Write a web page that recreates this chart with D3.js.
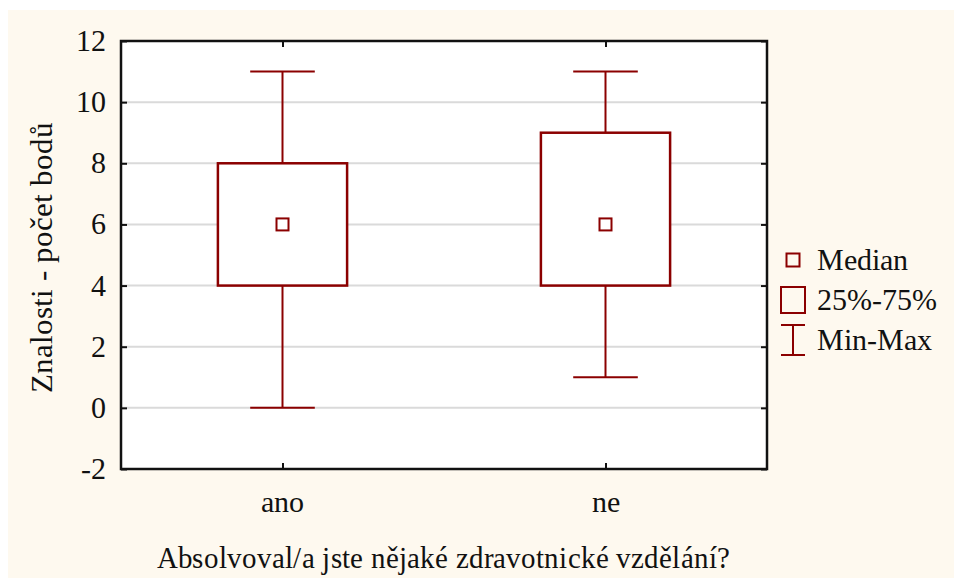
<!DOCTYPE html>
<html>
<head>
<meta charset="utf-8">
<script src="https://cdn.jsdelivr.net/npm/d3@7"></script>
<style>
  @font-face {
    font-family: "ChartSerif";
    src: local("Liberation Serif"), local("LiberationSerif"), local("LiberationSerif-Regular"), local("Times New Roman");
  }
  body { margin: 0; }
  text.lbl { font-family: "ChartSerif", "Liberation Serif", Times, monospace; fill: #111; }
</style>
</head>
<body>
<svg id="chart"></svg>
<script>
const width = 954;
const height = 578;

// box plot values
const groups = ["ano", "ne"];
const minVals = [0, 1];
const q1Vals = [4, 4];
const medianVals = [6, 6];
const q3Vals = [8, 9];
const maxVals = [11, 11];
const yTicks = [-2, 0, 2, 4, 6, 8, 10, 12];
const legendLabels = ["Median", "25%-75%", "Min-Max"];

const red = "#8b0000";
const margin = {top: 41, right: 187, bottom: 109, left: 121};
const plotW = width - margin.left - margin.right;
const plotH = height - margin.top - margin.bottom;

const svg = d3.select("#chart")
    .attr("width", width)
    .attr("height", height);

// cream background panel
svg.append("rect")
  .attr("x", 8).attr("y", 10)
  .attr("width", width - 8).attr("height", height - 10)
  .attr("fill", "#fef9ef");

const g = svg.append("g")
    .attr("transform", `translate(${margin.left},${margin.top})`);

const x = d3.scalePoint()
    .domain(groups)
    .range([0, plotW])
    .padding(0.5);

const y = d3.scaleLinear()
    .domain([-2, 12])
    .range([plotH, 0]);

g.append("rect")
  .attr("width", plotW).attr("height", plotH)
  .attr("fill", "#fff");

// grid lines
g.append("g")
  .selectAll("line")
  .data(yTicks.filter(d => d > -2 && d < 12))
  .join("line")
    .attr("x1", 0).attr("x2", plotW)
    .attr("y1", d => y(d)).attr("y2", d => y(d))
    .attr("stroke", "#dadada")
    .attr("stroke-width", 2);

// tick marks only, pointing inward
const tickAxis = sel => {
  sel.select(".domain").remove();
  sel.selectAll(".tick line").attr("stroke", "#111").attr("stroke-width", 2);
  sel.selectAll("text").remove();
};

g.append("g")
  .call(d3.axisLeft(y).tickValues(yTicks).tickSize(-6).tickSizeOuter(0))
  .call(tickAxis);
g.append("g")
  .attr("transform", `translate(${plotW},0)`)
  .call(d3.axisRight(y).tickValues(yTicks).tickSize(-6).tickSizeOuter(0))
  .call(tickAxis);
g.append("g")
  .call(d3.axisTop(x).tickSize(-6).tickSizeOuter(0))
  .call(tickAxis);
g.append("g")
  .attr("transform", `translate(0,${plotH})`)
  .call(d3.axisBottom(x).tickSize(-6).tickSizeOuter(0))
  .call(tickAxis);

// frame
g.append("rect")
  .attr("width", plotW).attr("height", plotH)
  .attr("fill", "none")
  .attr("stroke", "#111")
  .attr("stroke-width", 2.5);

// boxes
const step = x.step();
const boxW = step * 0.4;
const capW = step * 0.2;
const boxes = g.append("g").selectAll("g")
  .data(groups)
  .join("g");

boxes.append("line")
  .attr("x1", d => x(d)).attr("x2", d => x(d))
  .attr("y1", (d, i) => y(maxVals[i])).attr("y2", (d, i) => y(q3Vals[i]));
boxes.append("line")
  .attr("x1", d => x(d)).attr("x2", d => x(d))
  .attr("y1", (d, i) => y(q1Vals[i])).attr("y2", (d, i) => y(minVals[i]));
boxes.append("line")
  .attr("x1", d => x(d) - capW / 2).attr("x2", d => x(d) + capW / 2)
  .attr("y1", (d, i) => y(maxVals[i])).attr("y2", (d, i) => y(maxVals[i]));
boxes.append("line")
  .attr("x1", d => x(d) - capW / 2).attr("x2", d => x(d) + capW / 2)
  .attr("y1", (d, i) => y(minVals[i])).attr("y2", (d, i) => y(minVals[i]));
boxes.selectAll("line").attr("stroke", red).attr("stroke-width", 2);

boxes.append("rect")
  .attr("x", d => x(d) - boxW / 2)
  .attr("y", (d, i) => y(q3Vals[i]))
  .attr("width", boxW)
  .attr("height", (d, i) => y(q1Vals[i]) - y(q3Vals[i]))
  .attr("fill", "#fff")
  .attr("stroke", red)
  .attr("stroke-width", 2.5);

boxes.append("rect")
  .attr("x", d => x(d) - 6)
  .attr("y", (d, i) => y(medianVals[i]) - 6)
  .attr("width", 12).attr("height", 12)
  .attr("fill", "#fff")
  .attr("stroke", red)
  .attr("stroke-width", 2);

// tick labels
svg.selectAll("text.ylab")
  .data(yTicks)
  .join("text")
    .attr("class", "ylab lbl")
    .attr("x", margin.left - 15)
    .attr("y", d => margin.top + y(d) + 10)
    .attr("text-anchor", "end")
    .attr("font-size", 30)
    .text(d => String(d));

svg.selectAll("text.xlab")
  .data(groups)
  .join("text")
    .attr("class", "xlab lbl")
    .attr("x", d => margin.left + x(d))
    .attr("y", 512)
    .attr("text-anchor", "middle")
    .attr("font-size", 30)
    .text(d => d);

// axis titles
svg.append("text")
  .attr("class", "lbl")
  .attr("x", 157).attr("y", 568)
  .attr("font-size", 31)
  .attr("textLength", 573)
  .attr("lengthAdjust", "spacingAndGlyphs")
  .text("Absolvoval/a jste nějaké zdravotnické vzdělání?");

svg.append("text")
  .attr("class", "lbl")
  .attr("transform", "translate(52,257) rotate(-90)")
  .attr("text-anchor", "middle")
  .attr("font-size", 31)
  .text("Znalosti - počet bodů");

// legend
const legend = svg.append("g").attr("transform", "translate(793,0)");
const rowY = [260, 300, 340];
legend.append("rect")
  .attr("x", -6.5).attr("y", rowY[0] - 6.5)
  .attr("width", 13).attr("height", 13)
  .attr("fill", "none").attr("stroke", red).attr("stroke-width", 2);
legend.append("rect")
  .attr("x", -12).attr("y", rowY[1] - 13)
  .attr("width", 24).attr("height", 26)
  .attr("fill", "none").attr("stroke", red).attr("stroke-width", 2);
legend.append("path")
  .attr("d", `M-12,${rowY[2] - 15}H12M0,${rowY[2] - 15}V${rowY[2] + 15}M-12,${rowY[2] + 15}H12`)
  .attr("fill", "none").attr("stroke", red).attr("stroke-width", 2);
svg.selectAll("text.leg")
  .data(legendLabels)
  .join("text")
    .attr("class", "leg lbl")
    .attr("x", 817)
    .attr("y", (d, i) => rowY[i] + 10)
    .attr("font-size", 30)
    .text(d => d);
</script>
</body>
</html>
